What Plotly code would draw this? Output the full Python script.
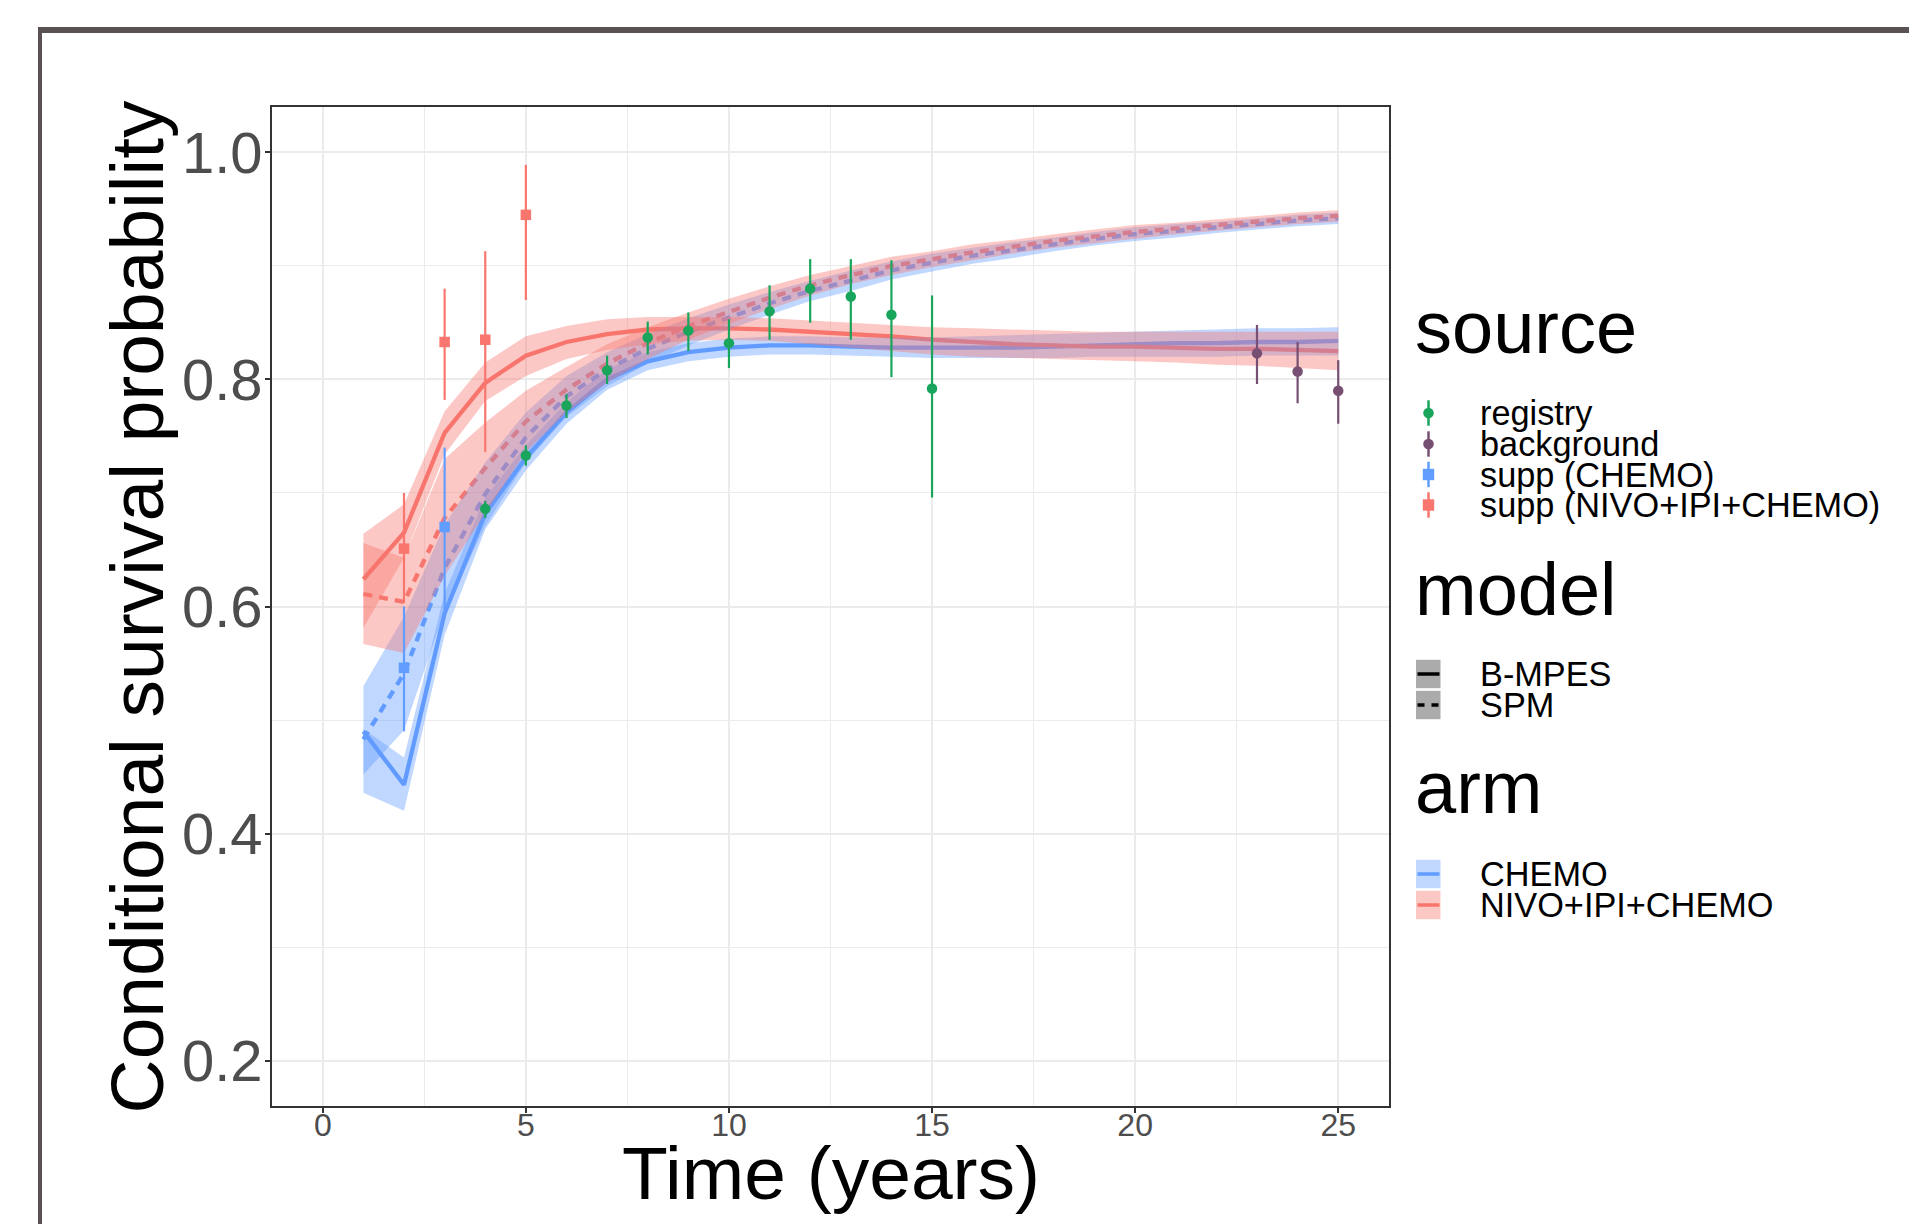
import plotly.graph_objects as go

# ---------------- data ----------------
years = list(range(1, 26))

chemo_bmpes = [0.490, 0.443, 0.594, 0.682, 0.731, 0.771, 0.800, 0.816, 0.824, 0.828, 0.830, 0.830, 0.829,
               0.828, 0.828, 0.828, 0.828, 0.829, 0.830, 0.831, 0.832, 0.832, 0.833, 0.833, 0.834]
chemo_bmpes_lo = [0.436, 0.420, 0.575, 0.668, 0.720, 0.761, 0.791, 0.808, 0.816, 0.820, 0.822, 0.822, 0.821,
                  0.820, 0.819, 0.819, 0.819, 0.819, 0.820, 0.820, 0.820, 0.820, 0.821, 0.821, 0.821]
chemo_bmpes_hi = [0.492, 0.467, 0.612, 0.696, 0.742, 0.780, 0.809, 0.824, 0.832, 0.836, 0.838, 0.838, 0.837,
                  0.837, 0.837, 0.838, 0.839, 0.840, 0.841, 0.842, 0.843, 0.844, 0.845, 0.845, 0.846]

chemo_spm = [0.483, 0.541, 0.634, 0.699, 0.749, 0.785, 0.809, 0.827, 0.842, 0.855, 0.867, 0.878, 0.887,
             0.896, 0.903, 0.909, 0.914, 0.919, 0.924, 0.928, 0.931, 0.934, 0.937, 0.940, 0.942]
chemo_spm_lo = [0.452, 0.491, 0.596, 0.671, 0.727, 0.767, 0.794, 0.814, 0.830, 0.844, 0.857, 0.869, 0.878,
                0.888, 0.895, 0.902, 0.907, 0.913, 0.918, 0.922, 0.925, 0.929, 0.932, 0.935, 0.937]
chemo_spm_hi = [0.530, 0.591, 0.672, 0.727, 0.771, 0.803, 0.824, 0.840, 0.854, 0.866, 0.877, 0.887, 0.896,
                0.904, 0.911, 0.916, 0.921, 0.925, 0.930, 0.934, 0.937, 0.939, 0.942, 0.945, 0.947]

nivo_bmpes = [0.624, 0.665, 0.753, 0.797, 0.821, 0.833, 0.840, 0.844, 0.845, 0.845, 0.844, 0.842, 0.840,
              0.838, 0.835, 0.833, 0.831, 0.830, 0.829, 0.829, 0.828, 0.827, 0.827, 0.826, 0.825]
nivo_bmpes_lo = [0.581, 0.643, 0.734, 0.781, 0.803, 0.818, 0.826, 0.831, 0.834, 0.835, 0.834, 0.831, 0.828,
                 0.825, 0.822, 0.820, 0.819, 0.818, 0.817, 0.816, 0.815, 0.813, 0.812, 0.810, 0.808]
nivo_bmpes_hi = [0.664, 0.690, 0.772, 0.815, 0.838, 0.847, 0.853, 0.855, 0.855, 0.855, 0.854, 0.852, 0.850,
                 0.848, 0.846, 0.845, 0.844, 0.843, 0.842, 0.842, 0.842, 0.842, 0.842, 0.842, 0.842]

nivo_spm = [0.611, 0.604, 0.678, 0.722, 0.763, 0.791, 0.814, 0.832, 0.847, 0.860, 0.872, 0.883, 0.892,
            0.900, 0.906, 0.912, 0.917, 0.922, 0.926, 0.930, 0.933, 0.936, 0.939, 0.942, 0.944]
nivo_spm_lo = [0.567, 0.559, 0.627, 0.682, 0.736, 0.771, 0.797, 0.818, 0.835, 0.849, 0.862, 0.874, 0.884,
               0.892, 0.899, 0.905, 0.911, 0.916, 0.920, 0.924, 0.928, 0.931, 0.934, 0.937, 0.939]
nivo_spm_hi = [0.656, 0.643, 0.730, 0.762, 0.790, 0.811, 0.831, 0.846, 0.859, 0.871, 0.882, 0.892, 0.900,
               0.908, 0.913, 0.919, 0.923, 0.928, 0.932, 0.936, 0.938, 0.941, 0.944, 0.947, 0.949]

registry_x = [4, 5, 6, 7, 8, 9, 10, 11, 12, 13, 14, 15]
registry_y = [0.686, 0.733, 0.777, 0.808, 0.837, 0.843, 0.832, 0.860, 0.880, 0.873, 0.857, 0.792]
registry_lo = [0.678, 0.724, 0.766, 0.796, 0.822, 0.825, 0.810, 0.835, 0.850, 0.835, 0.802, 0.696]
registry_hi = [0.693, 0.742, 0.787, 0.821, 0.851, 0.859, 0.853, 0.883, 0.906, 0.906, 0.905, 0.874]

background_x = [23, 24, 25]
background_y = [0.823, 0.807, 0.790]
background_lo = [0.796, 0.779, 0.761]
background_hi = [0.848, 0.833, 0.817]

supp_chemo_x = [2, 3]
supp_chemo_y = [0.546, 0.670]
supp_chemo_lo = [0.490, 0.597]
supp_chemo_hi = [0.600, 0.740]

supp_nivo_x = [2, 3, 4, 5]
supp_nivo_y = [0.651, 0.833, 0.835, 0.945]
supp_nivo_lo = [0.603, 0.782, 0.736, 0.870]
supp_nivo_hi = [0.700, 0.880, 0.913, 0.989]

x_ticks = [0, 5, 10, 15, 20, 25]
y_ticks = [0.2, 0.4, 0.6, 0.8, 1.0]
x_title = "Time (years)"
y_title = "Conditional survival probability"
source_labels = ["registry", "background", "supp (CHEMO)", "supp (NIVO+IPI+CHEMO)"]
model_labels = ["B-MPES", "SPM"]
arm_labels = ["CHEMO", "NIVO+IPI+CHEMO"]

# ---------------- styling ----------------
FONT = "Liberation Sans, Arial, Helvetica, sans-serif"
BLUE, RED = "#619CFF", "#F8766D"
BLUE_FILL, RED_FILL = "rgba(97,156,255,0.4)", "rgba(248,118,109,0.4)"
GREEN, PURPLE = "#19A55B", "#764F72"

W, H = 1909, 1224
ML, MR, MT, MB = 272, 520, 107, 118
PW, PH = W - ML - MR, H - MT - MB


def px(x):
    return (x - ML) / PW


def py(y):
    return (H - MB - y) / PH


fig = go.Figure()

# model lines (drawn first, ribbons are laid over them)
for arm_col, series in [(BLUE, [(chemo_bmpes, "solid"), (chemo_spm, "9px,7px")]),
                        (RED, [(nivo_bmpes, "solid"), (nivo_spm, "9px,7px")])]:
    for ys, dash in series:
        fig.add_trace(go.Scatter(x=years, y=ys, mode="lines",
                                 line=dict(color=arm_col, width=4.3, dash=dash),
                                 showlegend=False, hoverinfo="skip"))

# ribbons
for fill, bands in [(BLUE_FILL, [(chemo_bmpes_lo, chemo_bmpes_hi), (chemo_spm_lo, chemo_spm_hi)]),
                    (RED_FILL, [(nivo_bmpes_lo, nivo_bmpes_hi), (nivo_spm_lo, nivo_spm_hi)])]:
    for lo, hi in bands:
        fig.add_trace(go.Scatter(x=years + years[::-1], y=hi + lo[::-1], mode="lines",
                                 fill="toself", fillcolor=fill, line=dict(width=0),
                                 showlegend=False, hoverinfo="skip"))

# point ranges
for xs, ys, lo, hi, col, sym in [
    (registry_x, registry_y, registry_lo, registry_hi, GREEN, "circle"),
    (background_x, background_y, background_lo, background_hi, PURPLE, "circle"),
    (supp_chemo_x, supp_chemo_y, supp_chemo_lo, supp_chemo_hi, BLUE, "square"),
    (supp_nivo_x, supp_nivo_y, supp_nivo_lo, supp_nivo_hi, RED, "square"),
]:
    fig.add_trace(go.Scatter(
        x=xs, y=ys, mode="markers",
        marker=dict(color=col, symbol=sym, size=10.5, line=dict(width=0)),
        error_y=dict(type="data", symmetric=False,
                     array=[h - v for h, v in zip(hi, ys)],
                     arrayminus=[v - l for v, l in zip(ys, lo)],
                     color=col, thickness=2.2, width=0),
        showlegend=False, hoverinfo="skip"))

# ---------------- manual legend ----------------
shapes = []
annotations = []

# outer frame (plot background border, partly cropped)
FRAME = "#5a5252"
shapes.append(dict(type="line", xref="paper", yref="paper", x0=px(38), x1=px(2100), y0=py(30), y1=py(30),
                   line=dict(color=FRAME, width=6)))
shapes.append(dict(type="line", xref="paper", yref="paper", x0=px(40), x1=px(40), y0=py(28), y1=py(1400),
                   line=dict(color=FRAME, width=4)))

# axis titles
TITLE_SIZE = 75
annotations.append(dict(text=x_title, xref="paper", yref="paper", x=px(830.5), y=py(1199 - 0.3465 * TITLE_SIZE),
                        xanchor="center", yanchor="middle", showarrow=False,
                        font=dict(family=FONT, size=TITLE_SIZE, color="black")))
annotations.append(dict(text=y_title, xref="paper", yref="paper", x=px(136), y=py(606.5),
                        xanchor="center", yanchor="middle", showarrow=False, textangle=-90,
                        font=dict(family=FONT, size=TITLE_SIZE, color="black")))

KX = 1428.5
LX = 1478
TX = 1413
LABEL_SIZE = 34.3


def title(text, baseline):
    annotations.append(dict(text=text, xref="paper", yref="paper", x=px(TX), y=py(baseline - 0.3465 * 74),
                            xanchor="left", yanchor="middle", showarrow=False,
                            font=dict(family=FONT, size=74, color="black")))


def label(text, yc):
    annotations.append(dict(text=text, xref="paper", yref="paper", x=px(LX), y=py(yc),
                            xanchor="left", yanchor="middle", showarrow=False,
                            font=dict(family=FONT, size=LABEL_SIZE, color="black")))


title("source", 353)
src_cols = [GREEN, PURPLE, BLUE, RED]
src_syms = ["circle", "circle", "square", "square"]
for lab, col, sym, yc in zip(source_labels, src_cols, src_syms, [413, 444, 474.5, 505]):
    shapes.append(dict(type="line", xref="paper", yref="paper", x0=px(KX), x1=px(KX),
                       y0=py(yc - 12.7), y1=py(yc + 12.7), line=dict(color=col, width=2.5)))
    r = 5.3 if sym == "circle" else 5.7
    shapes.append(dict(type="circle" if sym == "circle" else "rect", xref="paper", yref="paper",
                       x0=px(KX - r), x1=px(KX + r), y0=py(yc + r), y1=py(yc - r),
                       fillcolor=col, line=dict(width=0)))
    label(lab, yc)

title("model", 615)
for lab, dash, yc in zip(model_labels, ["solid", "7px,7px"], [674, 705]):
    shapes.append(dict(type="rect", xref="paper", yref="paper", x0=px(1416), x1=px(1440.5),
                       y0=py(yc + 14.2), y1=py(yc - 14.2), fillcolor="#ababab", line=dict(width=0)))
    shapes.append(dict(type="line", xref="paper", yref="paper", x0=px(1417.5), x1=px(1439.5),
                       y0=py(yc), y1=py(yc), line=dict(color="black", width=3.5, dash=dash)))
    label(lab, yc)

title("arm", 813)
for lab, fill, col, yc in zip(arm_labels, ["#c0d7ff", "#fcc8c4"], [BLUE, RED], [874, 905]):
    shapes.append(dict(type="rect", xref="paper", yref="paper", x0=px(1416), x1=px(1440.5),
                       y0=py(yc + 14.2), y1=py(yc - 14.2), fillcolor=fill, line=dict(width=0)))
    shapes.append(dict(type="line", xref="paper", yref="paper", x0=px(1417.5), x1=px(1439.5),
                       y0=py(yc), y1=py(yc), line=dict(color=col, width=3.5)))
    label(lab, yc)

GRID = "#ebebeb"
fig.update_layout(
    width=W, height=H,
    margin=dict(l=ML, r=MR, t=MT, b=MB, pad=0),
    paper_bgcolor="white", plot_bgcolor="white",
    showlegend=False,
    font=dict(family=FONT, color="black"),
    shapes=shapes, annotations=annotations,
    xaxis=dict(
        range=[-1.25, 26.25], tickvals=x_ticks, ticktext=[str(v) for v in x_ticks],
        showgrid=True, gridcolor=GRID, gridwidth=2,
        minor=dict(tick0=0, dtick=2.5, showgrid=True, gridcolor=GRID, gridwidth=1, ticks=""),
        ticks="outside", ticklen=5, tickwidth=1.5, tickcolor="#333333",
        tickfont=dict(family=FONT, size=32, color="#4d4d4d"),
        ticklabelstandoff=-15,
        showline=True, linecolor="#333333", linewidth=1.5, mirror=True, zeroline=False,
    ),
    yaxis=dict(
        range=[0.16, 1.04], tickvals=y_ticks, ticktext=["%.1f" % v for v in y_ticks],
        showgrid=True, gridcolor=GRID, gridwidth=2,
        minor=dict(tick0=0.2, dtick=0.1, showgrid=True, gridcolor=GRID, gridwidth=1, ticks=""),
        ticks="outside", ticklen=5, tickwidth=1.5, tickcolor="#333333",
        tickfont=dict(family=FONT, size=58, color="#4d4d4d"),
        ticklabelstandoff=-9,
        showline=True, linecolor="#333333", linewidth=1.5, mirror=True, zeroline=False,
    ),
)

fig.write_html("out.html", config={"displayModeBar": False},
               post_script="document.body.style.margin='0';document.body.style.overflow='hidden';")
